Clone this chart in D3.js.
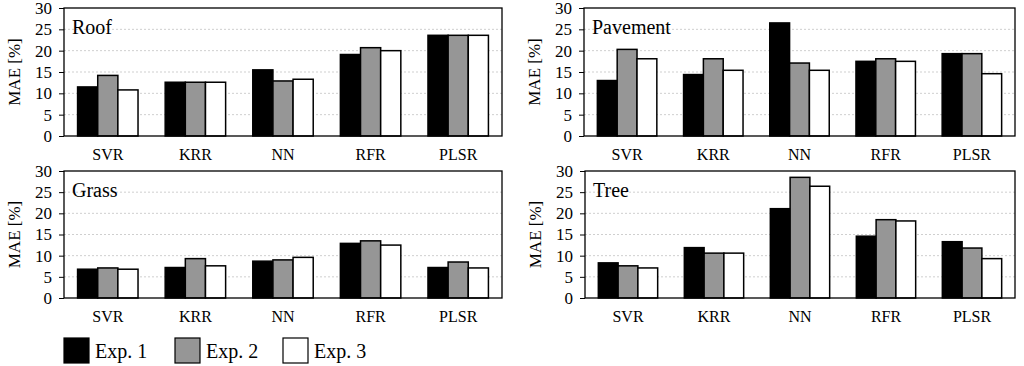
<!DOCTYPE html>
<html>
<head>
<meta charset="utf-8">
<script src="https://cdn.jsdelivr.net/npm/d3@7"></script>
<style>
  body { margin: 0; background: #fff; }
  svg { display: block; }
  svg text { font-family: "Liberation Serif", "Times New Roman", serif !important; }
</style>
</head>
<body>
<script>
// categories and series
var models = ["SVR", "KRR", "NN", "RFR", "PLSR"];
var series = ["Exp. 1", "Exp. 2", "Exp. 3"];
var colors = ["#000000", "#969696", "#ffffff"];
var yTicks = [0, 5, 10, 15, 20, 25, 30];

// MAE [%] per model, one value per experiment
var roof     = [[11.5, 14.2, 10.8], [12.6, 12.6, 12.6], [15.5, 12.9, 13.3], [19.1, 20.7, 20.0], [23.6, 23.6, 23.6]];
var pavement = [[13.0, 20.3, 18.1], [14.4, 18.1, 15.4], [26.5, 17.1, 15.4], [17.5, 18.1, 17.5], [19.3, 19.3, 14.6]];
var grass    = [[6.8, 7.1, 6.8], [7.2, 9.3, 7.6], [8.7, 9.0, 9.6], [12.9, 13.5, 12.5], [7.2, 8.5, 7.1]];
var tree     = [[8.3, 7.6, 7.1], [11.9, 10.6, 10.6], [21.1, 28.5, 26.4], [14.6, 18.5, 18.2], [13.3, 11.8, 9.3]];

var panels = [
    {title: "Roof",     data: roof,     x: 64,  y: 8,   w: 438, h: 128},
    {title: "Pavement", data: pavement, x: 584, y: 8,   w: 431, h: 128},
    {title: "Grass",    data: grass,    x: 64,  y: 171, w: 438, h: 127},
    {title: "Tree",     data: tree,     x: 585, y: 171, w: 430, h: 127}
];

var width = 1024;
var height = 366;

let svg = d3.select("body").append("svg")
                .attr("width", width)
                .attr("height", height);

panels.forEach(function(p){
    var g = svg.append("g").attr("transform", "translate(" + p.x + "," + p.y + ")");

    var x = d3.scaleBand().domain(models).range([0, p.w])
                .paddingInner(0.31).paddingOuter(0.155);
    var xs = d3.scaleBand().domain(d3.range(series.length)).range([0, x.bandwidth()]);
    var y = d3.scaleLinear().domain([0, 30]).range([p.h, 0]);

    // dotted grid
    g.selectAll(".grid")
        .data(yTicks.filter(function(t){ return t > 0 && t < 30; }))
        .enter().append("line")
        .attr("x1", 0).attr("x2", p.w)
        .attr("y1", function(d){ return y(d); })
        .attr("y2", function(d){ return y(d); })
        .attr("stroke", "#cfcfcf")
        .attr("stroke-width", 1)
        .attr("stroke-dasharray", "2,2");

    // bars
    var groups = g.selectAll(".grp")
        .data(p.data)
        .enter().append("g")
        .attr("transform", function(d, i){ return "translate(" + x(models[i]) + ",0)"; });

    groups.selectAll("rect")
        .data(function(d){ return d; })
        .enter().append("rect")
        .attr("x", function(d, j){ return xs(j); })
        .attr("y", function(d){ return y(d); })
        .attr("width", xs.bandwidth())
        .attr("height", function(d){ return p.h - y(d); })
        .attr("fill", function(d, j){ return colors[j]; })
        .attr("stroke", "#000")
        .attr("stroke-width", 1.5);

    // frame
    g.append("rect")
        .attr("width", p.w).attr("height", p.h)
        .attr("fill", "none")
        .attr("stroke", "#000")
        .attr("stroke-width", 1.3);

    // y axis
    var yAxis = g.append("g")
        .call(d3.axisLeft(y).tickValues(yTicks).tickSize(5).tickPadding(7))
        .attr("font-size", 17);
    yAxis.select(".domain").remove();
    yAxis.selectAll("line").attr("stroke", "#000");
    yAxis.selectAll("text").attr("fill", "#000");

    // x labels
    var xAxis = g.append("g")
        .attr("transform", "translate(0," + p.h + ")")
        .call(d3.axisBottom(x).tickSize(0).tickPadding(13))
        .attr("font-size", 16);
    xAxis.select(".domain").remove();
    xAxis.selectAll("text").attr("fill", "#000");

    // title
    g.append("text")
        .attr("x", 8).attr("y", 26)
        .attr("font-size", "20px")
        .text(p.title);

    // y label
    g.append("text")
        .attr("transform", "translate(" + -44 + "," + (p.h / 2) + ") rotate(-90)")
        .attr("text-anchor", "middle")
        .attr("font-size", "17px")
        .text("MAE [%]");
});

// legend
var legX = [64, 175, 283];
var leg = svg.selectAll(".leg")
    .data(series)
    .enter().append("g")
    .attr("transform", function(d, i){ return "translate(" + legX[i] + ",338)"; });

leg.append("rect")
    .attr("width", 25).attr("height", 25)
    .attr("fill", function(d, i){ return colors[i]; })
    .attr("stroke", "#000")
    .attr("stroke-width", 1.2);

leg.append("text")
    .attr("x", 31).attr("y", 20)
    .attr("font-size", "20px")
    .text(function(d){ return d; });
</script>
</body>
</html>
